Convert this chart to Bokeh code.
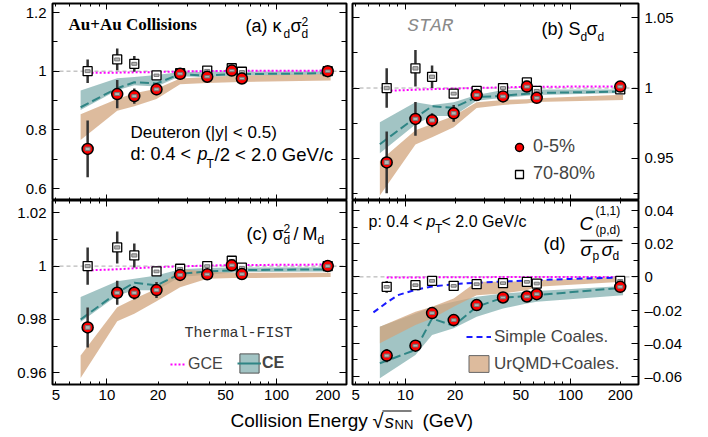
import math
import numpy as np
from bokeh.plotting import figure
from bokeh.models import (Range1d, LinearAxis, LogAxis, FixedTicker, CustomJSTickFormatter,
                          Span, Label, Legend, LegendItem, BoxAnnotation, ColumnDataSource)
from bokeh.layouts import column, row
from bokeh.embed import file_html
from bokeh.resources import INLINE

# ---------------- data ----------------
energy = [7.7, 11.5, 14.5, 19.6, 27, 39, 54.4, 62.4, 200]
model_energy = [7.0, 11.5, 14.5, 19.6, 27, 39, 54.4, 62.4, 208]
gce_energy = [7.7, 11.5, 14.5, 19.6, 27, 39, 54.4, 62.4, 208]
coal_energy = [6.4, 7.7, 9.0, 11.5, 14.5, 19.6, 27, 39, 62.4, 100, 208]

# (a) kappa_d sigma_d^2
a_c = [0.735, 0.922, 0.915, 0.938, 0.991, 0.981, 1.002, 0.975, 1.000]
a_c_err = [0.097, 0.048, 0.026, 0.020, 0.008, 0.006, 0.008, 0.008, 0.006]
a_c_sys = [0.006, 0.005, 0.005, 0.005, 0.004, 0.004, 0.004, 0.004, 0.004]
a_p = [1.000, 1.040, 1.025, 0.986, 0.993, 1.002, 1.010, 0.998, 1.000]
a_p_err = [0.040, 0.037, 0.027, 0.010, 0.006, 0.006, 0.010, 0.008, 0.004]
a_p_sys = [0.005, 0.005, 0.005, 0.004, 0.004, 0.004, 0.004, 0.004, 0.003]
a_gce = [0.994, 0.995, 0.996, 0.997, 0.999, 1.000, 1.001, 1.001, 1.002]
a_ce = [0.877, 0.942, 0.962, 0.958, 0.990, 0.985, 0.990, 0.990, 0.993]
a_ce_lo = [0.868, 0.935, 0.952, 0.948, 0.983, 0.979, 0.984, 0.985, 0.989]
a_ce_hi = [0.934, 0.976, 0.980, 0.987, 0.997, 0.997, 0.998, 0.998, 0.999]
a_uq_lo = [0.765, 0.865, 0.880, 0.905, 0.955, 0.960, 0.962, 0.963, 0.968]
a_uq_hi = [0.853, 0.905, 0.925, 0.940, 0.975, 0.980, 0.984, 0.985, 0.990]

# (b) S_d sigma_d
b_c = [0.947, 0.978, 0.977, 0.982, 0.995, 0.994, 1.001, 0.993, 1.001]
b_c_err = [0.022, 0.012, 0.005, 0.006, 0.002, 0.002, 0.002, 0.003, 0.001]
b_c_sys = [0.0015, 0.0012, 0.0012, 0.0012, 0.001, 0.001, 0.001, 0.001, 0.001]
b_p = [1.000, 1.014, 1.008, 0.996, 0.998, 1.000, 1.004, 0.998, 0.999]
b_p_err = [0.014, 0.013, 0.008, 0.003, 0.002, 0.002, 0.003, 0.002, 0.001]
b_p_sys = [0.0012, 0.0012, 0.0012, 0.001, 0.001, 0.001, 0.001, 0.001, 0.001]
b_gce = [0.998, 0.9988, 0.9992, 0.9996, 1.0, 1.0005, 1.0008, 1.0009, 1.0012]
b_ce = [0.960, 0.979, 0.987, 0.986, 0.9935, 0.9945, 0.996, 0.9965, 0.9975]
b_ce_lo = [0.9536, 0.974, 0.980, 0.980, 0.991, 0.993, 0.9945, 0.995, 0.9964]
b_ce_hi = [0.9756, 0.9898, 0.988, 0.9898, 0.995, 0.9986, 0.9986, 0.999, 0.999]
b_uq_lo = [0.9234, 0.9597, 0.965, 0.972, 0.9858, 0.988, 0.989, 0.990, 0.9915]
b_uq_hi = [0.948, 0.970, 0.9744, 0.980, 0.9898, 0.9915, 0.992, 0.9927, 0.9953]

# (c) sigma_d^2 / M_d
c_c = [0.977, 0.990, 0.990, 0.991, 0.9967, 0.9969, 1.0003, 0.997, 1.000]
c_c_err = [0.0075, 0.0045, 0.0025, 0.003, 0.001, 0.0008, 0.001, 0.001, 0.0006]
c_c_sys = [0.0007, 0.0006, 0.0006, 0.0006, 0.0005, 0.0005, 0.0005, 0.0005, 0.0005]
c_p = [1.000, 1.007, 1.004, 0.998, 0.999, 1.000, 1.002, 0.9994, 1.000]
c_p_err = [0.007, 0.006, 0.0045, 0.001, 0.001, 0.0008, 0.001, 0.001, 0.0005]
c_p_sys = [0.0006, 0.0006, 0.0006, 0.0005, 0.0005, 0.0005, 0.0005, 0.0005, 0.0005]
c_gce = [0.9984, 0.9988, 0.9992, 0.9996, 0.9999, 1.0002, 1.0004, 1.0004, 1.0006]
c_ce = [0.980, 0.990, 0.9938, 0.9928, 0.9971, 0.998, 0.9984, 0.9985, 0.9988]
c_ce_lo = [0.979, 0.989, 0.9909, 0.9909, 0.9959, 0.9968, 0.9975, 0.9978, 0.998]
c_ce_hi = [0.9884, 0.9943, 0.9953, 0.9965, 0.9988, 0.9993, 0.9995, 0.9995, 0.9996]
c_uq_lo = [0.958, 0.9793, 0.9821, 0.9868, 0.9921, 0.9953, 0.9955, 0.9955, 0.9959]
c_uq_hi = [0.9665, 0.9846, 0.9878, 0.9915, 0.9988, 0.998, 0.9975, 0.9975, 0.9975]

# (d) C(p,d)^(1,1) / (sigma_p sigma_d)
d_c = [-0.0474, -0.0414, -0.0218, -0.026, -0.017, -0.0124, -0.0118, -0.0104, -0.006]
d_c_err = [0.004, 0.001, 0.001, 0.001, 0.001, 0.0008, 0.0008, 0.0008, 0.0005]
d_c_sys = [0.0009, 0.0008, 0.0008, 0.0008, 0.0008, 0.0008, 0.0008, 0.0008, 0.0008]
d_p = [-0.006, -0.005, -0.0024, -0.0054, -0.0044, -0.0038, -0.003, -0.004, -0.0024]
d_p_err = [0.0035, 0.001, 0.001, 0.001, 0.001, 0.001, 0.001, 0.001, 0.0005]
d_p_sys = [0.0008, 0.0008, 0.0008, 0.0008, 0.0008, 0.0008, 0.0008, 0.0008, 0.0008]
d_gce = [-0.0004, -0.0003, -0.0003, -0.0002, -0.0002, -0.0001, -0.0001, -0.0001, 0.0]
d_ce = [-0.052, -0.044, -0.025, -0.0295, -0.018, -0.0125, -0.0115, -0.011, -0.0065]
d_ce_lo = [-0.061, -0.047, -0.035, -0.031, -0.024, -0.019, -0.016, -0.015, -0.011]
d_ce_hi = [-0.030, -0.022, -0.018, -0.015, -0.012, -0.010, -0.009, -0.0085, -0.0055]
d_uq_lo = [-0.040, -0.029, -0.025, -0.018, -0.011, -0.010, -0.008, -0.006, -0.003]
d_uq_hi = [-0.030, -0.021, -0.018, -0.013, -0.003, -0.003, -0.0025, -0.002, 0.0]
d_coal = [-0.0214, -0.0155, -0.011, -0.0078, -0.0058, -0.0044, -0.0035, -0.0028, -0.002, -0.0012, -0.0004]

x_label_ticks = [5, 10, 20, 50, 100, 200]
x_major_ticks = [10, 100]
x_minor_ticks = [5, 6, 7, 8, 9, 20, 30, 40, 50, 60, 70, 80, 90, 200]

a_ticks, a_minor = [0.6, 0.8, 1.0, 1.2], [0.7, 0.9, 1.1]
b_ticks, b_minor = [0.95, 1.0, 1.05], [0.925, 0.975, 1.025]
c_ticks, c_minor = [0.96, 0.98, 1.0, 1.02], [0.97, 0.99, 1.01]
d_ticks, d_minor = [-0.06, -0.04, -0.02, 0.0, 0.02, 0.04], [-0.05, -0.03, -0.01, 0.01, 0.03]

# ---------------- style ----------------
XMIN, XMAX = 4.78, 258.0
TEAL = "#7aabab"
TEAL_LINE = "#2f8585"
TAN = "#d2a47c"
MAGENTA = "#ff00ff"
FONT = "Liberation Sans"

# frames in page pixels: (left, top, width, height, ymin, ymax)
FA = (52, 3, 294, 197, 0.5591, 1.2307)
FB = (352, 3, 286, 197, 0.9199, 1.0602)
FC = (52, 200, 294, 184, 0.9556, 1.0246)
FD = (352, 200, 286, 184, -0.0648, 0.046)
FT_TOP = 407  # page y of the strip that holds the x-axis title

FMT = CustomJSTickFormatter(code="return tick < 0 ? '\u2013' + Math.abs(tick) : String(tick);")
BLANK = CustomJSTickFormatter(code="return '';")


def mkfig(w, h, mbl, mbr, mbt, mbb, frame):
    f = figure(width=w, height=h, x_axis_type="log",
               x_range=Range1d(XMIN, XMAX), y_range=Range1d(frame[4], frame[5]),
               output_backend="svg", toolbar_location=None,
               x_axis_location=None, y_axis_location=None,
               min_border_left=mbl, min_border_right=mbr,
               min_border_top=mbt, min_border_bottom=mbb)
    f.xgrid.visible = False
    f.ygrid.visible = False
    f.outline_line_color = "black"
    f.outline_line_width = 2
    f.background_fill_color = "white"
    f.border_fill_color = "white"
    return f


def x_ticks_only(f, side):
    ax = LogAxis(ticker=FixedTicker(ticks=x_major_ticks, minor_ticks=x_minor_ticks),
                 major_tick_in=6, major_tick_out=0, minor_tick_in=3, minor_tick_out=0,
                 axis_line_color=None, formatter=BLANK, major_label_text_font_size="1px",
                 major_label_standoff=0, major_tick_line_color="black",
                 minor_tick_line_color="black")
    f.add_layout(ax, side)


def x_labels(f):
    ax = LogAxis(ticker=FixedTicker(ticks=x_label_ticks, minor_ticks=[]),
                 major_tick_in=0, major_tick_out=0, minor_tick_in=0, minor_tick_out=0,
                 axis_line_color=None, major_tick_line_color=None, minor_tick_line_color=None,
                 formatter=FMT, major_label_text_font=FONT,
                 major_label_text_font_size="15px", major_label_standoff=5,
                 major_label_text_color="black")
    f.add_layout(ax, "below")


def y_axis(f, side, ticks, minor, labels):
    kw = dict(ticker=FixedTicker(ticks=ticks, minor_ticks=minor),
              major_tick_in=7, major_tick_out=0, minor_tick_in=5, minor_tick_out=0,
              axis_line_color=None, major_tick_line_color="black",
              minor_tick_line_color="black")
    if labels:
        kw.update(formatter=FMT, major_label_text_font=FONT, major_label_text_font_size="15px",
                  major_label_standoff=6, major_label_text_color="black")
    else:
        kw.update(formatter=BLANK, major_label_text_font_size="1px", major_label_standoff=0)
    f.add_layout(LinearAxis(**kw), side)


def px2data(frame, X, Y):
    L, T, W, H, y0, y1 = frame
    lx0, lx1 = math.log10(XMIN), math.log10(XMAX)
    x = 10 ** (lx0 + (X - L) / W * (lx1 - lx0))
    y = y1 - (Y - T) / H * (y1 - y0)
    return x, y


def put(f, frame, X, Y, text, size, font=FONT, style="normal", color="black"):
    if frame is None:
        x, y = X, Y - FT_TOP
    else:
        x, y = px2data(frame, X, Y)
    f.add_layout(Label(x=x, y=y, text=text, text_font=font, text_font_size=f"{size}px",
                       text_font_style=style, text_color=color,
                       text_baseline="middle", text_align="left"))


def hbar(f, frame, X0, X1, Y, th=1.3):
    if frame is None:
        x0, ya, x1, yb = X0, Y - th / 2 - FT_TOP, X1, Y + th / 2 - FT_TOP
    else:
        x0, ya = px2data(frame, X0, Y - th / 2)
        x1, yb = px2data(frame, X1, Y + th / 2)
    f.add_layout(BoxAnnotation(left=x0, right=x1, top=ya, bottom=yb,
                               fill_color="black", fill_alpha=1.0, line_color=None,
                               level="overlay"))


def points(f, y, err, sys, marker):
    y = np.array(y)
    err = np.array(err)
    src = ColumnDataSource(dict(x=energy, y=y, lo=y - err, hi=y + err, sh=2 * np.array(sys)))
    f.segment(x0="x", y0="lo", x1="x", y1="hi", source=src, line_color="#333333", line_width=2.5)
    if marker == "circle":
        r = f.scatter("x", "y", source=src, marker="circle", size=11, fill_color="#ff0000",
                      line_color="black", line_width=1.5)
    else:
        r = f.scatter("x", "y", source=src, marker="square", size=9, fill_color="white",
                      line_color="black", line_width=1.3)
    f.rect(x="x", y="y", width=5, height="sh", width_units="screen", source=src,
           fill_color="#b4b4b4", line_color="#777777", line_width=1)
    return r


def panel(f, ref, ce_lo, ce_hi, ce, uq_lo, uq_hi, gce, per, per_err, per_sys, cen, cen_err, cen_sys):
    f.add_layout(Span(location=ref, dimension="width", line_color="#a8a8a8",
                      line_dash="4 3", line_width=1, level="underlay"))
    f.varea(x=model_energy, y1=ce_lo, y2=ce_hi, fill_color=TEAL, fill_alpha=0.7)
    f.varea(x=model_energy, y1=uq_lo, y2=uq_hi, fill_color=TAN, fill_alpha=0.75)
    f.line(model_energy, ce, line_color=TEAL_LINE, line_width=2, line_dash="9 4")
    g = f.line(gce_energy, gce, line_color=MAGENTA, line_width=2, line_dash="2 2")
    rp = points(f, per, per_err, per_sys, "square")
    rc = points(f, cen, cen_err, cen_sys, "circle")
    return g, rp, rc


# ---------------- figures ----------------
fa = mkfig(349, 200, 52, 3, 3, 0, FA)
fb = mkfig(359, 200, 3, 70, 3, 0, FB)
fc = mkfig(349, FT_TOP - 200, 52, 3, 0, FT_TOP - 384, FC)
fd = mkfig(359, FT_TOP - 200, 3, 70, 0, FT_TOP - 384, FD)

# strip for the common x-axis title (pixel coordinates)
ft = figure(width=708, height=437 - FT_TOP, x_range=Range1d(0, 708),
            y_range=Range1d(437 - FT_TOP, 0), output_backend="svg", toolbar_location=None,
            x_axis_location=None, y_axis_location=None, min_border=0)
ft.xgrid.visible = False
ft.ygrid.visible = False
ft.outline_line_color = None
ft.background_fill_color = "white"
ft.border_fill_color = "white"

# axes
for f in (fa, fb):
    x_ticks_only(f, "below")
    x_ticks_only(f, "above")
for f in (fc, fd):
    x_ticks_only(f, "below")
    x_labels(f)
    x_ticks_only(f, "above")
y_axis(fa, "left", a_ticks, a_minor, True)
y_axis(fa, "right", a_ticks, a_minor, False)
y_axis(fb, "left", b_ticks, b_minor, False)
y_axis(fb, "right", b_ticks, b_minor, True)
y_axis(fc, "left", c_ticks, c_minor, True)
y_axis(fc, "right", c_ticks, c_minor, False)
y_axis(fd, "left", d_ticks, d_minor, False)
y_axis(fd, "right", d_ticks, d_minor, True)

# panels
panel(fa, 1.0, a_ce_lo, a_ce_hi, a_ce, a_uq_lo, a_uq_hi, a_gce, a_p, a_p_err, a_p_sys, a_c, a_c_err, a_c_sys)
gb, pb, cb = panel(fb, 1.0, b_ce_lo, b_ce_hi, b_ce, b_uq_lo, b_uq_hi, b_gce, b_p, b_p_err, b_p_sys, b_c, b_c_err, b_c_sys)
gc, pc, cc = panel(fc, 1.0, c_ce_lo, c_ce_hi, c_ce, c_uq_lo, c_uq_hi, c_gce, c_p, c_p_err, c_p_sys, c_c, c_c_err, c_c_sys)
# panel d
fd.add_layout(Span(location=0.0, dimension="width", line_color="#a8a8a8",
                   line_dash="4 3", line_width=1, level="underlay"))
fd.varea(x=model_energy, y1=d_ce_lo, y2=d_ce_hi, fill_color=TEAL, fill_alpha=0.7)
fd.varea(x=model_energy, y1=d_uq_lo, y2=d_uq_hi, fill_color=TAN, fill_alpha=0.75)
fd.line(model_energy, d_ce, line_color=TEAL_LINE, line_width=2, line_dash="9 4")
fd.line(gce_energy, d_gce, line_color=MAGENTA, line_width=2, line_dash="2 2")
coal_r = fd.line(coal_energy, d_coal, line_color="#1a1aff", line_width=2, line_dash="6 4")
points(fd, d_p, d_p_err, d_p_sys, "square")
points(fd, d_c, d_c_err, d_c_sys, "circle")

# legend proxies (zero-size, only their legend glyphs are seen)
ce_box = fc.quad(left=[1.0], right=[1.0], top=[0.0], bottom=[0.0], fill_color=TEAL, fill_alpha=0.7,
                 line_color="#555555", line_width=1)
ce_line = fc.line([1.0, 1.0], [0.0, 0.0], line_color=TEAL_LINE, line_width=2)
uq_box = fd.quad(left=[1.0], right=[1.0], top=[-1.0], bottom=[-1.0], fill_color=TAN, fill_alpha=0.75,
                 line_color="#666666", line_width=1)

LEG = dict(padding=0, margin=0, border_line_color=None, background_fill_alpha=0,
           label_text_font=FONT, label_text_baseline="middle")
fb.add_layout(Legend(items=[LegendItem(label="0-5%", renderers=[cb]),
                            LegendItem(label="70-80%", renderers=[pb])],
                     location=(157, 16), orientation="vertical", glyph_width=20, glyph_height=20,
                     label_height=20, label_standoff=4, spacing=6,
                     label_text_font_size="18px", **LEG))
fc.add_layout(Legend(items=[LegendItem(label="GCE", renderers=[gc])],
                     location=(118, 10), glyph_width=16, glyph_height=20, label_height=20,
                     label_standoff=2, label_text_font_size="16px", **LEG))
fc.add_layout(Legend(items=[LegendItem(label="CE", renderers=[ce_box, ce_line])],
                     location=(185, 9), glyph_width=24, glyph_height=24, label_height=20,
                     label_standoff=1, label_text_font_size="16px", label_text_font_style="bold",
                     **LEG))
fd.add_layout(Legend(items=[LegendItem(label="Simple Coales.", renderers=[coal_r]),
                            LegendItem(label="UrQMD+Coales.", renderers=[uq_box])],
                     location=(114, 10), orientation="vertical", glyph_width=25, glyph_height=21,
                     label_height=21, label_standoff=3, spacing=6,
                     label_text_font_size="17px", **LEG))

# ---------------- texts ----------------
# (a)
put(fa, FA, 68, 24, "Au+Au Collisions", 17, font="Liberation Serif", style="bold")
put(fa, FA, 245, 25.5, "(a) \u03ba", 18)
put(fa, FA, 283, 33, "d", 12)
put(fa, FA, 290, 25.5, "\u03c3", 18)
put(fa, FA, 301, 20.5, "2", 12)
put(fa, FA, 301, 33, "d", 12)
put(fa, FA, 130, 132, "Deuteron (|y| < 0.5)", 17)
put(fa, FA, 130, 153.5, "d: 0.4 < ", 18)
put(fa, FA, 197, 153.5, "p", 18, style="italic")
put(fa, FA, 206, 163, "T", 12)
put(fa, FA, 214, 153.5, "/2 < 2.0 GeV/c", 18.5)
# (b)
put(fb, FB, 407, 25, "STAR", 19, font="Liberation Mono", style="italic", color="#8a8a8a")
put(fb, FB, 541, 28, "(b)", 18)
put(fb, FB, 568, 28, "S", 18)
put(fb, FB, 580, 36, "d", 12)
put(fb, FB, 586, 28, "\u03c3", 18)
put(fb, FB, 597, 36, "d", 12)
# (c)
put(fc, FC, 246, 233, "(c) \u03c3", 18)
put(fc, FC, 283, 227.5, "2", 12)
put(fc, FC, 283, 239.5, "d", 12)
put(fc, FC, 293, 233, "/", 18)
put(fc, FC, 302, 233, "M", 18)
put(fc, FC, 317, 239.5, "d", 12)
put(fc, FC, 184, 333, "Thermal-FIST", 15, font="Liberation Mono", color="#333333")
# (d)
put(fd, FD, 368, 220.7, "p: 0.4 < ", 16)
put(fd, FD, 426, 220.7, "p", 16, style="italic")
put(fd, FD, 434.5, 228, "T", 12)
put(fd, FD, 441, 220.7, " < 2.0 GeV/c", 16)
put(fd, FD, 543, 243, "(d)", 18)
put(fd, FD, 579, 223, "C", 19, style="italic")
put(fd, FD, 595, 210, "(1,1)", 12)
put(fd, FD, 595, 229, "(p,d)", 12)
hbar(fd, FD, 580, 622, 240)
put(fd, FD, 580, 249, "\u03c3", 19, style="italic")
put(fd, FD, 592, 255, "p", 12)
put(fd, FD, 601, 249, "\u03c3", 19, style="italic")
put(fd, FD, 612, 255.5, "d", 12)
# x axis title
put(ft, None, 230, 420, "Collision Energy", 19)
put(ft, None, 372, 420, "\u221a", 20)
hbar(ft, None, 382, 411, 410.5, th=1.2)
put(ft, None, 384, 421, "s", 19, style="italic")
put(ft, None, 394, 424, "NN", 13)
put(ft, None, 422, 420, "(GeV)", 19)

lay = column(row(fa, fb), row(fc, fd), ft)

open("out.html", "w").write(file_html(lay, INLINE))
